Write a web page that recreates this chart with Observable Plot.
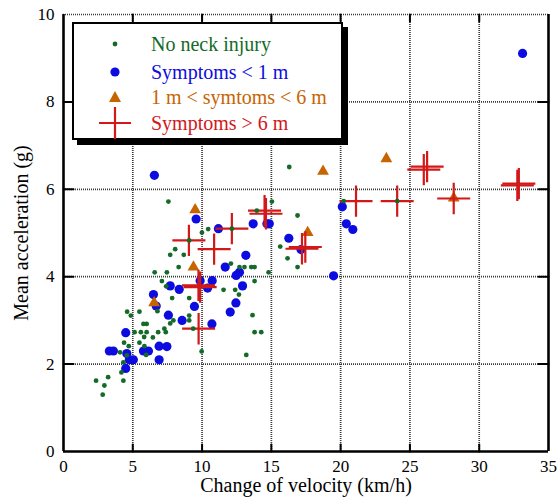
<!DOCTYPE html>
<html>
<head>
<meta charset="utf-8">
<script src="https://cdn.jsdelivr.net/npm/d3@7"></script>
<script src="https://cdn.jsdelivr.net/npm/@observablehq/plot@0.6"></script>
<style>
  body { margin: 0; background: #fff; }
  #chart { position: relative; width: 559px; height: 497px; font-family: "Liberation Serif", "Times New Roman", serif; }
  #legend { position: absolute; left: 72px; top: 22px; width: 271px; height: 118px; box-sizing: border-box;
            border: 2px solid #000; background: #fff; box-shadow: 5px 5px 0 #000; }
  #legend svg { position: absolute; left: -2px; top: -2px; }
</style>
</head>
<body>
<div id="chart"></div>
<script>
// Change of velocity (km/h) vs mean acceleration (g), grouped by neck injury outcome
const noInjury = [
  [16.29,6.51],[7.57,5.72],[9.99,5.01],[10.44,5.09],[8.06,4.63],[7.70,4.50],[8.68,4.50],[8.31,4.22],
  [6.58,4.10],[7.46,4.10],[7.10,3.90],[7.41,3.78],[7.84,3.51],[9.07,3.51],[6.78,3.21],[4.59,3.20],
  [4.86,3.11],[5.48,3.20],[5.77,2.92],[6.00,2.92],[5.13,2.73],[5.58,2.73],[6.00,2.73],[6.83,2.73],
  [5.82,2.62],[6.45,2.61],[4.37,2.49],[4.71,2.41],[5.48,2.49],[5.84,2.41],[4.08,2.27],[4.57,2.20],
  [4.32,2.04],[4.18,1.81],[2.35,1.62],[3.22,1.70],[4.32,1.62],[2.95,1.51],[2.83,1.30],[5.96,2.21],
  [7.28,2.81],[7.38,2.73],[7.93,3.00],[7.70,2.93],[9.07,3.11],[9.07,3.00],[9.36,2.81],[9.97,2.29],
  [11.55,3.70],[12.39,3.70],[12.66,3.59],[12.08,4.30],[12.70,4.22],[13.06,4.22],[13.55,4.22],[13.79,4.22],
  [14.80,4.10],[13.79,3.90],[13.64,3.12],[13.79,2.73],[14.27,2.73],[13.19,2.21],[16.17,4.42],[16.89,4.22],
  [15.64,4.69],[16.89,5.40],[15.04,5.72],[13.95,5.51],[20.22,5.73],[24.08,5.73],[9.07,4.83],[12.15,5.10]
];
const symptomsUnder1m = [
  [33.13,9.11],[6.56,6.32],[9.57,5.32],[11.18,5.10],[13.69,5.21],[14.68,5.21],[14.85,5.21],[16.26,4.88],
  [17.14,4.62],[20.12,5.60],[20.41,5.21],[20.88,5.08],[19.49,4.02],[13.16,4.49],[11.67,4.22],[12.70,4.10],
  [12.46,4.03],[12.92,3.79],[12.44,3.40],[12.03,3.19],[10.73,3.91],[10.71,2.92],[7.70,3.79],[8.35,3.71],
  [6.49,3.59],[6.69,3.33],[7.57,3.12],[8.56,3.00],[9.45,3.32],[9.86,3.91],[10.40,3.74],[4.49,2.72],
  [3.31,2.30],[3.60,2.30],[4.57,2.24],[5.77,2.30],[6.13,2.30],[6.90,2.41],[7.46,2.40],[4.75,2.10],
  [5.04,2.10],[6.90,2.10],[4.49,1.90]
];
const symptoms1to6m = [
  [23.30,6.70],[18.73,6.41],[28.16,5.80],[17.62,5.01],[9.50,5.53],[9.38,4.22],[6.54,3.40]
];
const symptomsOver6m = [
  [32.86,6.13],[32.75,6.09],[26.24,6.52],[26.00,6.45],[28.16,5.79],[24.08,5.73],[21.11,5.73],[17.45,4.68],
  [17.21,4.64],[14.61,5.44],[14.51,5.51],[12.15,5.10],[10.87,4.63],[9.05,4.83],[9.86,3.76],[9.74,3.80],
  [9.75,2.81]
];
const xTicks = [0, 5, 10, 15, 20, 25, 30, 35];
const yTicks = [0, 2, 4, 6, 8, 10];
const xTitle = "Change of velocity (km/h)";
const yTitle = "Mean acceleration (g)";
const legendLabels = ["No neck injury", "Symptoms < 1 m", "1 m < symtoms < 6 m", "Symptoms > 6 m"];
const colors = ["#146b28", "#0c0ce0", "#c86400", "#d21818"];

// A plain stroke for tick marks, drawn by Plot.vector
const tickLine = { draw(ctx, l) { ctx.moveTo(0, 0); ctx.lineTo(0, -l); } };
// Open "+" marker; its half-width follows the dot radius
const cross = {
  draw(ctx, size) {
    const h = Math.sqrt(size / Math.PI), v = h * 0.95;
    ctx.moveTo(-h, 0); ctx.lineTo(h, 0);
    ctx.moveTo(0, -v); ctx.lineTo(0, v);
  }
};
const dotted = { stroke: "#3a3a3a", strokeWidth: 1.7, strokeDasharray: "1,1" };
const px = d => d[0], py = d => d[1];

const chart = Plot.plot({
  width: 559, height: 497,
  marginLeft: 63, marginRight: 11, marginTop: 14, marginBottom: 46,
  style: { fontFamily: '"Liberation Serif", "Times New Roman", serif', fontSize: "17px", color: "#000", background: "#fff", overflow: "visible" },
  x: { domain: [0, 35] },
  y: { domain: [0, 10] },
  marks: [
    Plot.ruleX(xTicks.slice(1, -1), dotted),
    Plot.ruleY(yTicks.slice(1), dotted),
    Plot.ruleX([0], { strokeWidth: 2.6 }),
    Plot.ruleX([35], { strokeWidth: 2.6 }),
    Plot.ruleY([0], { strokeWidth: 2.6 }),
    Plot.vector(yTicks.slice(1, -1), { y: d => d, frameAnchor: "left", rotate: 90, length: 10, anchor: "start", shape: tickLine, strokeWidth: 2 }),
    Plot.vector(yTicks.slice(1, -1), { y: d => d, frameAnchor: "right", rotate: -90, length: 10, anchor: "start", shape: tickLine, strokeWidth: 2 }),
    Plot.vector(xTicks.slice(1, -1), { x: d => d, frameAnchor: "bottom", rotate: 0, length: 7, anchor: "start", shape: tickLine, strokeWidth: 2 }),
    Plot.vector(xTicks.slice(1, -1), { x: d => d, frameAnchor: "top", rotate: 180, length: 7, anchor: "start", shape: tickLine, strokeWidth: 2 }),
    Plot.axisX({ ticks: xTicks, tickSize: 0, tickPadding: 8, label: null, fontSize: 17 }),
    Plot.axisY({ ticks: yTicks, tickSize: 0, tickPadding: 9, label: null, fontSize: 17 }),
    Plot.text([xTitle], { frameAnchor: "bottom", lineAnchor: "middle", textAnchor: "middle", dy: 34, text: d => d, fontSize: 20 }),
    Plot.text([yTitle], { frameAnchor: "left", lineAnchor: "middle", textAnchor: "middle", dx: -42, rotate: -90, text: d => d, fontSize: 20 }),
    Plot.dot(symptomsUnder1m, { x: px, y: py, r: 4.6, fill: colors[1] }),
    Plot.dot(symptoms1to6m, { x: px, y: py, r: 4.4, symbol: "triangle", fill: colors[2] }),
    Plot.dot(symptomsOver6m, { x: px, y: py, r: 16.5, symbol: cross, fill: "none", stroke: colors[3], strokeWidth: 2.2 }),
    Plot.dot(noInjury, { x: px, y: py, r: 2.4, fill: colors[0] })
  ]
});

const root = document.getElementById("chart");
root.appendChild(chart);

// Boxed legend with drop shadow, placed over the upper-left of the plot area
const legend = document.createElement("div");
legend.id = "legend";
const ns = "http://www.w3.org/2000/svg";
const lsvg = document.createElementNS(ns, "svg");
lsvg.setAttribute("width", 271);
lsvg.setAttribute("height", 118);
const rowY = [22, 50, 75, 101];
const symX = 43, textX = 79;
legendLabels.forEach((label, i) => {
  const cy = rowY[i];
  let s;
  if (i === 0 || i === 1) {
    s = document.createElementNS(ns, "circle");
    s.setAttribute("cx", symX); s.setAttribute("cy", cy);
    s.setAttribute("r", i === 0 ? 2.4 : 4.6);
    s.setAttribute("fill", colors[i]);
  } else if (i === 2) {
    s = document.createElementNS(ns, "path");
    s.setAttribute("d", `M${symX},${cy - 6}L${symX + 6},${cy + 5}L${symX - 6},${cy + 5}Z`);
    s.setAttribute("fill", colors[i]);
  } else {
    s = document.createElementNS(ns, "path");
    s.setAttribute("d", `M${symX - 16},${cy}H${symX + 16}M${symX},${cy - 16}V${cy + 16}`);
    s.setAttribute("stroke", colors[i]); s.setAttribute("stroke-width", 2.2); s.setAttribute("fill", "none");
  }
  lsvg.appendChild(s);
  const t = document.createElementNS(ns, "text");
  t.setAttribute("x", textX); t.setAttribute("y", cy + 6.5);
  t.setAttribute("fill", colors[i]);
  t.setAttribute("font-size", 20);
  t.setAttribute("font-family", '"Liberation Serif", "Times New Roman", serif');
  t.textContent = label;
  lsvg.appendChild(t);
});
legend.appendChild(lsvg);
root.appendChild(legend);
</script>
</body>
</html>
